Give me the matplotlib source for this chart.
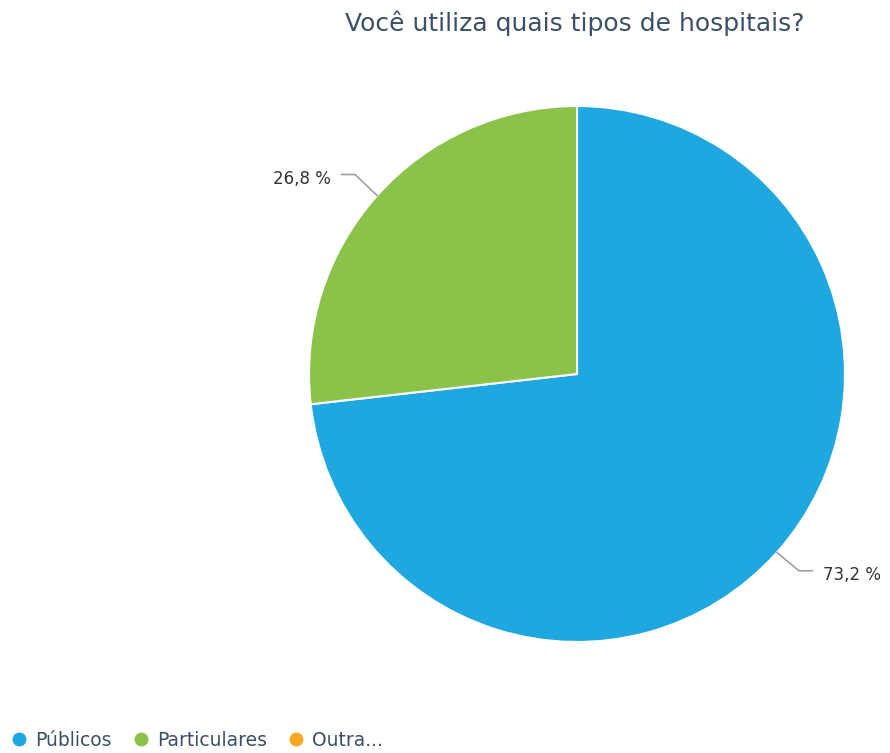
import numpy as np
import matplotlib.pyplot as plt
from matplotlib.lines import Line2D

plt.rcParams['font.family'] = ['DejaVu Sans']

categories = ["Públicos", "Particulares", "Outra..."]
values = [73.2, 26.8, 0.0]
colors = ["#1fa8e0", "#8bc34a", "#f9a825"]
value_labels = ["73,2 %", "26,8 %", ""]

title_color = "#3c4f66"
text_color = "#333333"

fig = plt.figure(figsize=(8.9, 7.53), dpi=100)

# pie axes: centre (577,374) px, radius 268 px
cx, cy, r = 577, 374, 268
W, H = 890, 753
ax = fig.add_axes([(cx - r) / W, (H - cy - r) / H, 2 * r / W, 2 * r / H])

shown = [i for i, v in enumerate(values) if v > 0]
wedges, _ = ax.pie([values[i] for i in shown],
                   colors=[colors[i] for i in shown],
                   startangle=90, counterclock=False, radius=1,
                   wedgeprops=dict(edgecolor="white", linewidth=1.5))
ax.set_xlim(-1, 1)
ax.set_ylim(-1, 1)
ax.set_aspect("equal")
ax.axis("off")

# labels with elbow connectors
for w, i in zip(wedges, shown):
    ang = np.deg2rad((w.theta1 + w.theta2) / 2)
    x0, y0 = np.cos(ang), np.sin(ang)
    x1, y1 = 1.11 * x0, 1.11 * y0
    side = 1 if x0 > 0 else -1
    x2 = x1 + side * 0.05
    ax.plot([x0, x1, x2], [y0, y1 + 0.005, y1 + 0.005], color="#a0a0a0", lw=1.2,
            clip_on=False, solid_joinstyle="round")
    ax.text(x2 + side * 0.04, y1 - 0.012, value_labels[i],
            ha="left" if side > 0 else "right", va="center",
            fontsize=12, color=text_color)

fig.text(0.646, 0.969, "Você utiliza quais tipos de hospitais?",
         ha="center", va="center", fontsize=18, color=title_color)

handles = [Line2D([], [], marker="o", linestyle="", markersize=9,
                  markerfacecolor=c, markeredgecolor=c) for c in colors]
fig.legend(handles, categories, loc="center left", bbox_to_anchor=(-0.010, 0.017),
           ncol=3, frameon=False, handletextpad=0.25, columnspacing=0.95,
           fontsize=13.5, labelcolor="#3c4f66", handlelength=1.2)

fig.savefig("out.png", dpi=100)
